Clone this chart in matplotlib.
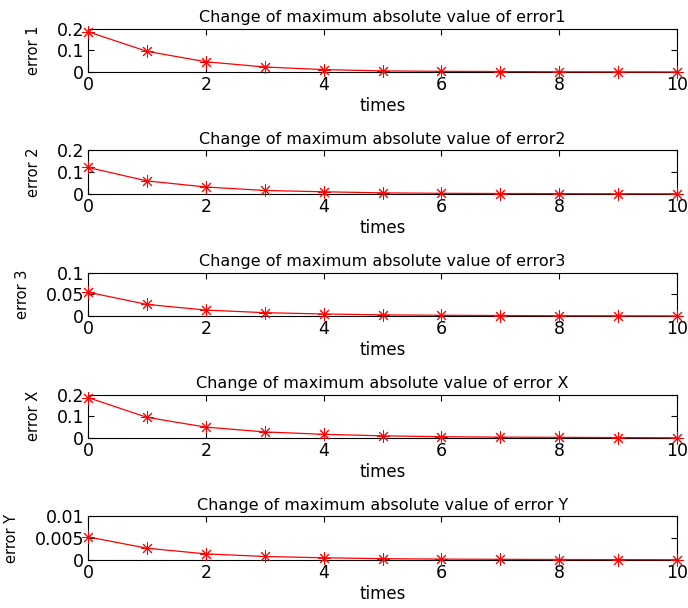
import numpy as np
import matplotlib.pyplot as plt

plt.rcParams['font.family'] = ['DejaVu Sans']

times = np.arange(0, 11)

error1 = [0.185, 0.095, 0.047, 0.023, 0.011, 0.005, 0.003, 0.002, 0.001, 0.0006, 0.0003]
error2 = [0.122, 0.06, 0.032, 0.016, 0.01, 0.005, 0.003, 0.002, 0.0015, 0.001, 0.0008]
error3 = [0.055, 0.027, 0.014, 0.008, 0.005, 0.003, 0.002, 0.0015, 0.001, 0.0008, 0.0006]
errorX = [0.186, 0.095, 0.05, 0.028, 0.017, 0.01, 0.006, 0.004, 0.003, 0.002, 0.001]
errorY = [0.0053, 0.0027, 0.0014, 0.0008, 0.0005, 0.0003, 0.0002, 0.00015, 0.0001, 0.00008, 0.00006]

series = [error1, error2, error3, errorX, errorY]
titles = ['Change of maximum absolute value of error1',
          'Change of maximum absolute value of error2',
          'Change of maximum absolute value of error3',
          'Change of maximum absolute value of error X',
          'Change of maximum absolute value of error Y']
ylabels = ['error 1', 'error 2', 'error 3', 'error X', 'error Y']
ylims = [0.2, 0.2, 0.1, 0.2, 0.01]
yticks = [[0, 0.1, 0.2], [0, 0.1, 0.2], [0, 0.05, 0.1], [0, 0.1, 0.2], [0, 0.005, 0.01]]
yticklabels = [['0', '0.1', '0.2'], ['0', '0.1', '0.2'], ['0', '0.05', '0.1'],
               ['0', '0.1', '0.2'], ['0', '0.005', '0.01']]

fig = plt.figure(figsize=(6.88, 6.08), dpi=100)
bottoms = [0.8816, 0.681, 0.480, 0.2796, 0.079]

for i in range(5):
    ax = fig.add_axes([0.128, bottoms[i], 0.856, 0.0715])
    ax.plot(times, series[i], color='red', marker=(8, 2, 0), markersize=9,
            markeredgewidth=0.7, linewidth=0.9, clip_on=False, zorder=3)
    ax.set_xlim(0, 10)
    ax.set_ylim(0, ylims[i])
    ax.set_xticks([0, 2, 4, 6, 8, 10])
    ax.set_yticks(yticks[i])
    ax.set_yticklabels(yticklabels[i])
    ax.tick_params(direction='in', top=True, right=True, labelsize=12.5, length=4, pad=3)
    ax.set_title(titles[i], fontsize=11.5, pad=5)
    ax.set_xlabel('times', fontsize=12, labelpad=2)
    ax.set_ylabel(ylabels[i], fontsize=10.5, labelpad=11)

plt.savefig('out.png', dpi=100)
